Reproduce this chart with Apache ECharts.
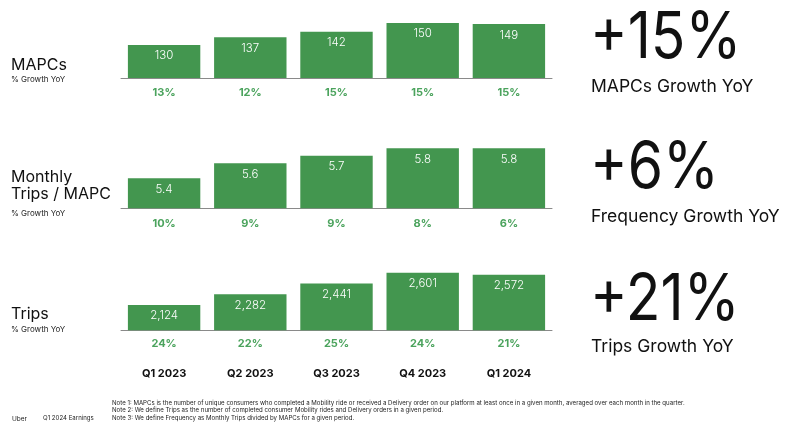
<!DOCTYPE html>
<html><head><meta charset="utf-8">
<script src="https://cdn.jsdelivr.net/npm/echarts@6/dist/echarts.min.js"></script>
<style>html,body{margin:0;padding:0;background:#fff}#c{width:800px;height:435px}</style>
</head><body><div id="c"></div>
<script>
const quarters = ['Q1 2023','Q2 2023','Q3 2023','Q4 2023','Q1 2024'];
const mapcs = [130,137,142,150,149];
const mapcsGrowth = ['13%','12%','15%','15%','15%'];
const tripsPerMapc = [5.4,5.6,5.7,5.8,5.8];
const tripsPerMapcGrowth = ['10%','9%','9%','8%','6%'];
const trips = [2124,2282,2441,2601,2572];
const tripsGrowth = ['24%','22%','25%','24%','21%'];
const headlines = ['+15%','+6%','+21%'];
const headlineSubs = ['MAPCs Growth YoY','Frequency Growth YoY','Trips Growth YoY'];
const notes = [
 'Note 1: MAPCs is the number of unique consumers who completed a Mobility ride or received a Delivery order on our platform at least once in a given month, averaged over each month in the quarter.',
 'Note 2: We define Trips as the number of completed consumer Mobility rides and Delivery orders in a given period.',
 'Note 3: We define Frequency as Monthly Trips divided by MAPCs for a given period.'
];

const FONT = 'Inter, "Noto Sans", sans-serif';
const BAR = '#43964f';
const PCT = '#4ba35d';
const chart = echarts.init(document.getElementById('c'));

const grids = [
  {left:121, width:431, top:12, height:66},
  {left:121, width:431, top:133.3, height:75},
  {left:121, width:431, top:262.6, height:67.7}
];
const yRanges = [[100,160],[5,6],[1750,2750]];
const growths = [mapcsGrowth, tripsPerMapcGrowth, tripsGrowth];
const values = [mapcs, tripsPerMapc, trips];
const fmt = [v=>String(v), v=>v.toFixed(1), v=>v.toLocaleString('en-US')];

const xAxes = grids.map((g,i)=>({
  type:'category', gridIndex:i, data:quarters,
  axisTick:{show:false},
  axisLine:{lineStyle:{color:'#8a8a8a', width:1}},
  axisLabel:{
    interval:0,
    margin: i===2 ? 7 : 9,
    fontFamily: FONT,
    formatter:(val, idx)=> i===2 ? '{g|'+growths[i][idx]+'}\n{q|'+val+'}' : '{g|'+growths[i][idx]+'}',
    rich:{
      g:{color:PCT, fontWeight:'bold', fontSize:11, fontFamily:FONT, lineHeight:12},
      q:{color:'#111', fontWeight:'bold', fontSize:11, fontFamily:FONT, lineHeight:20, padding:[28,0,0,0]}
    }
  }
}));
const yAxes = grids.map((g,i)=>({
  type:'value', gridIndex:i, min:yRanges[i][0], max:yRanges[i][1],
  show:false, splitLine:{show:false}
}));
const series = grids.map((g,i)=>({
  type:'bar', xAxisIndex:i, yAxisIndex:i, data:values[i],
  barWidth:'84%',
  itemStyle:{color:BAR},
  label:{show:true, position:'insideTop', distance:5, color:'#fff', fontSize:11.5, fontFamily:FONT, fontWeight:300,
    formatter:p=>fmt[i](p.value)}
}));

const graphic = [];
const leftLabels = [
  {lines:['MAPCs'], y:[66], sub:81},
  {lines:['Monthly','Trips / MAPC'], y:[178,195], sub:215},
  {lines:['Trips'], y:[315], sub:331}
];
leftLabels.forEach(l=>{
  l.lines.forEach((t,k)=>graphic.push({type:'text', left:11, top:l.y[k]-9, style:{text:t, fontSize:16, fontFamily:FONT, fill:'#111', fontWeight:400}}));
  graphic.push({type:'text', left:11, top:l.sub-5, style:{text:'% Growth YoY', fontSize:8, fontFamily:FONT, fill:'#222'}});
});
const headTop = [7, 137, 269];
const subTop = [78, 208, 338];
headlines.forEach((h,i)=>{
  graphic.push({type:'text', x:590, y:headTop[i], scaleX:0.89, style:{text:h, fontSize:64, fontFamily:FONT, fill:'#111', fontWeight:400}});
  graphic.push({type:'text', left:591, top:subTop[i], style:{text:headlineSubs[i], fontSize:17.5, fontFamily:FONT, fill:'#111', fontWeight:400}});
});
notes.forEach((n,i)=>graphic.push({type:'text', left:112, top:400+i*7.6, style:{text:n, fontSize:6.1, fontFamily:FONT, fill:'#222'}}));
graphic.push({type:'text', left:12, top:415.5, style:{text:'Uber', fontSize:6.5, fontFamily:FONT, fill:'#222'}});
graphic.push({type:'text', left:43, top:415.5, style:{text:'Q1 2024 Earnings', fontSize:6.1, fontFamily:FONT, fill:'#222'}});

chart.setOption({
  backgroundColor:'#fff',
  animation:false,
  grid:grids,
  xAxis:xAxes,
  yAxis:yAxes,
  series:series,
  graphic:graphic
});
</script></body></html>
